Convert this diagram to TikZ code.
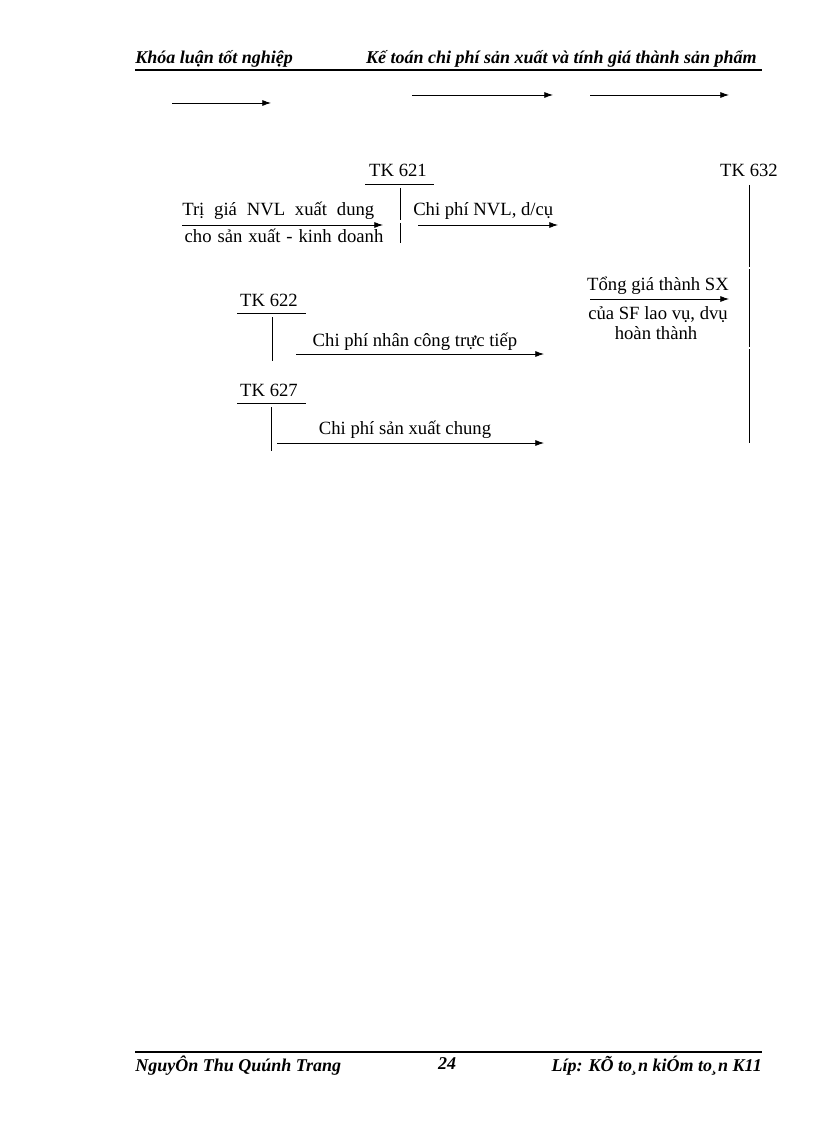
\documentclass[tikz,border=0pt]{standalone}
\usepackage{fontspec}
\setmainfont{Liberation Serif}
\usetikzlibrary{arrows.meta}
\begin{document}
\begin{tikzpicture}[x=0.75pt,y=-0.75pt,
  arr/.style={line width=0.6pt,-{Latex[length=6.5pt,width=4.5pt]}},
  tline/.style={line width=0.6pt},
  body/.style={inner sep=0pt,font=\fontsize{14}{16}\selectfont},
  hdr/.style={inner sep=0pt,font=\fontsize{13.5}{15}\selectfont\bfseries\itshape}]
\useasboundingbox (0,0) rectangle (816,1123);
% header
\node[hdr,anchor=base west] (h1) at (135,64) {Khóa luận tốt nghiệp};
\node[hdr,anchor=base east] (h2) at (757,64) {Kế toán chi phí sản xuất và tính giá thành sản phẩm};
\coordinate (hl1) at (135,70); \coordinate (hl2) at (762,70);
\draw[line width=1.6pt] (hl1) -- (hl2);
% top arrows
\coordinate (a1) at (172,103); \coordinate (a2) at (271,103);
\coordinate (b1) at (412,95); \coordinate (b2) at (553,95);
\coordinate (c1) at (590,95); \coordinate (c2) at (729,95);
\draw[arr] (a1) -- (a2);
\draw[arr] (b1) -- (b2);
\draw[arr] (c1) -- (c2);
% TK 621
\node[body,anchor=base] (tk621) at (398,177) {TK 621};
\coordinate (t621l) at (365,184); \coordinate (t621r) at (434,184);
\draw[tline] (t621l) -- (t621r);
\coordinate (v621a) at (400,188); \coordinate (v621m) at (400,220);
\coordinate (v621n) at (400,223); \coordinate (v621b) at (400,243);
\draw[tline] (v621a) -- (v621m) (v621n) -- (v621b);
\node[body,anchor=base west] (l1a) at (182,215) {\makebox[144pt][s]{Trị giá NVL xuất dung}};
\node[body,anchor=base] (l1b) at (284,243) {\makebox[149pt][s]{cho sản xuất - kinh doanh}};
\coordinate (d1) at (182,225); \coordinate (d2) at (383,225);
\draw[arr] (d1) -- (d2);
\node[body,anchor=base west] (l2) at (413,216) {Chi phí NVL, d/cụ};
\coordinate (e1) at (418,225); \coordinate (e2) at (558,225);
\draw[arr] (e1) -- (e2);
% TK 632
\node[body,anchor=base] (tk632) at (749,177) {TK 632};
\coordinate (v632a) at (749,185); \coordinate (v632m) at (749,267);
\coordinate (v632n) at (749,269); \coordinate (v632o) at (749,347);
\coordinate (v632p) at (749,349); \coordinate (v632b) at (749,443);
\draw[tline] (v632a) -- (v632m) (v632n) -- (v632o) (v632p) -- (v632b);
\node[body,anchor=base] (l3a) at (658,290) {Tổng giá thành SX};
\coordinate (f1) at (590,299); \coordinate (f2) at (729,299);
\draw[arr] (f1) -- (f2);
\node[body,anchor=base] (l3b) at (658,319) {của SF lao vụ, dvụ};
\node[body,anchor=base] (l3c) at (656,339) {hoàn thành};
% TK 622
\node[body,anchor=base] (tk622) at (269,306) {TK 622};
\coordinate (t622l) at (237,313); \coordinate (t622r) at (306,313);
\draw[tline] (t622l) -- (t622r);
\coordinate (v622a) at (272,317); \coordinate (v622b) at (272,361);
\draw[tline] (v622a) -- (v622b);
\node[body,anchor=base] (l4) at (415,346) {Chi phí nhân công trực tiếp};
\coordinate (g1) at (296,354); \coordinate (g2) at (544,354);
\draw[arr] (g1) -- (g2);
% TK 627
\node[body,anchor=base] (tk627) at (269,396) {TK 627};
\coordinate (t627l) at (237,403); \coordinate (t627r) at (306,403);
\draw[tline] (t627l) -- (t627r);
\coordinate (v627a) at (271,407); \coordinate (v627b) at (271,451);
\draw[tline] (v627a) -- (v627b);
\node[body,anchor=base] (l5) at (405,434) {Chi phí sản xuất chung};
\coordinate (k1) at (277,443); \coordinate (k2) at (544,443);
\draw[arr] (k1) -- (k2);
% footer
\coordinate (fl1) at (135,1052); \coordinate (fl2) at (762,1052);
\draw[line width=1.6pt] (fl1) -- (fl2);
\node[hdr,anchor=base west] (f1t) at (135,1071) {NguyÔn Thu Quúnh Trang};
\node[hdr,anchor=base] (f2t) at (447,1069) {24};
\node[hdr,anchor=base east] (f3t) at (762,1071) {Líp: KÕ to¸n kiÓm to¸n K11};
\end{tikzpicture}
\end{document}
